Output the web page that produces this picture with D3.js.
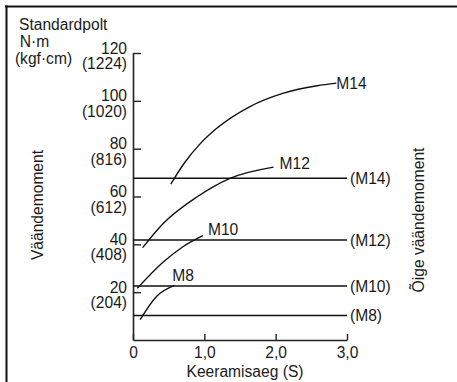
<!DOCTYPE html>
<html><head><meta charset="utf-8">
<script src="https://cdn.jsdelivr.net/npm/d3@7"></script>
<style>
html,body{margin:0;padding:0;background:#fff;}
text{font-family:"Liberation Sans",Arial,sans-serif;fill:#1a1a1a;}
</style></head>
<body>
<script>
// ---- data ----
const xTicks = [0, 1, 2, 3];
const xTickLabels = ["0", "1,0", "2,0", "3,0"];
const yTicks = [20, 40, 60, 80, 100, 120];
const yTickKgf = ["(204)", "(408)", "(612)", "(816)", "(1020)", "(1224)"];
const boltSizes = ["M8", "M10", "M12", "M14"];
const properTorque = [10.2, 22.6, 41.8, 67.6];
const curveM8 = [[0.10, 8.5], [0.33, 18.2], [0.58, 22.8]];
const curveM10 = [[0.06, 21.6], [0.42, 32.5], [0.70, 39.0], [0.98, 43.6]];
const curveM12 = [[0.135, 38.6], [0.42, 48.6], [0.89, 59.7], [1.36, 67.6], [1.97, 72.3]];
const curveM14 = [[0.53, 65.2], [0.71, 73.6], [0.94, 82.0], [1.17, 88.4], [1.64, 97.6], [2.11, 103.2], [2.58, 106.3], [2.85, 107.4]];
const curves = [curveM8, curveM10, curveM12, curveM14];

const W = 457, H = 382;
const svg = d3.select("body").append("svg").attr("width", W).attr("height", H);
const FS = "15.6px";

// frame (top and left edges)
svg.append("line").attr("x1", 5).attr("x2", W).attr("y1", 6.5).attr("y2", 6.5).attr("stroke", "#111").attr("stroke-width", 2);
svg.append("line").attr("x1", 6.5).attr("x2", 6.5).attr("y1", 5.5).attr("y2", H).attr("stroke", "#111").attr("stroke-width", 2);

const x = d3.scaleLinear().domain([0, 3]).range([133, 347]);
const y = d3.scaleLinear().domain([0, 120]).range([340, 53]);

// y axis
const gy = svg.append("g").attr("transform", `translate(${x(0)},0)`)
  .call(d3.axisLeft(y).tickValues(yTicks).tickSizeInner(-8).tickSizeOuter(0).tickPadding(6));
gy.select(".domain").attr("stroke", "#222").attr("stroke-width", 1.6);
gy.selectAll(".tick line").attr("stroke", "#222").attr("stroke-width", 1.4);
gy.selectAll(".tick text").each(function (d) {
  const t = d3.select(this);
  const xx = t.attr("x");
  t.text(null).attr("dy", null).attr("font-size", FS).attr("font-family", null).attr("fill", "#1a1a1a");
  t.append("tspan").attr("x", xx).attr("dy", "0em").text(d);
  t.append("tspan").attr("x", xx).attr("dy", "1.0em").text(yTickKgf[yTicks.indexOf(d)]);
});

// x axis
const gx = svg.append("g").attr("transform", `translate(0,${y(0)})`)
  .call(d3.axisBottom(x).tickValues(xTicks).tickSizeInner(-6).tickSizeOuter(0).tickPadding(7)
    .tickFormat((d, i) => xTickLabels[i]));
gx.select(".domain").attr("stroke", "#222").attr("stroke-width", 1.6);
gx.selectAll(".tick line").attr("stroke", "#222").attr("stroke-width", 1.4);
gx.selectAll(".tick text").attr("font-size", FS).attr("font-family", null).attr("fill", "#1a1a1a");

// proper torque horizontal lines
boltSizes.forEach((s, i) => {
  svg.append("line").attr("x1", x(0)).attr("x2", x(3))
    .attr("y1", y(properTorque[i])).attr("y2", y(properTorque[i]))
    .attr("stroke", "#111").attr("stroke-width", 1.5);
  svg.append("text").attr("x", x(3) + 3).attr("y", y(properTorque[i])).attr("dy", "0.36em")
    .attr("font-size", FS).text("(" + s + ")");
});

// tightening curves
const line = d3.line().x(d => x(d[0])).y(d => y(d[1])).curve(d3.curveMonotoneX);
const labelOffsets = [[-2, -4], [5, -1], [6, 2], [0, 5.5]];
curves.forEach((c, i) => {
  svg.append("path").attr("d", line(c)).attr("fill", "none").attr("stroke", "#111").attr("stroke-width", 1.4);
  const end = c[c.length - 1];
  svg.append("text").attr("x", x(end[0]) + labelOffsets[i][0]).attr("y", y(end[1]) + labelOffsets[i][1])
    .attr("font-size", FS).text(boltSizes[i]);
});

// titles
svg.append("text").attr("x", 19).attr("y", 30).attr("font-size", FS).text("Standardpolt");
svg.append("text").attr("x", 34.5).attr("y", 46.5).attr("text-anchor", "middle").attr("font-size", FS).text("N·m");
svg.append("text").attr("x", 43.5).attr("y", 63.5).attr("text-anchor", "middle").attr("font-size", FS).text("(kgf·cm)");
svg.append("text").attr("transform", "translate(43,205) rotate(-90)").attr("text-anchor", "middle")
  .attr("font-size", FS).text("Väändemoment");
svg.append("text").attr("transform", "translate(424,220) rotate(-90)").attr("text-anchor", "middle")
  .attr("font-size", FS).text("Õige väändemoment");
svg.append("text").attr("x", 245).attr("y", 377).attr("text-anchor", "middle").attr("font-size", FS).text("Keeramisaeg (S)");
</script>
</body></html>
